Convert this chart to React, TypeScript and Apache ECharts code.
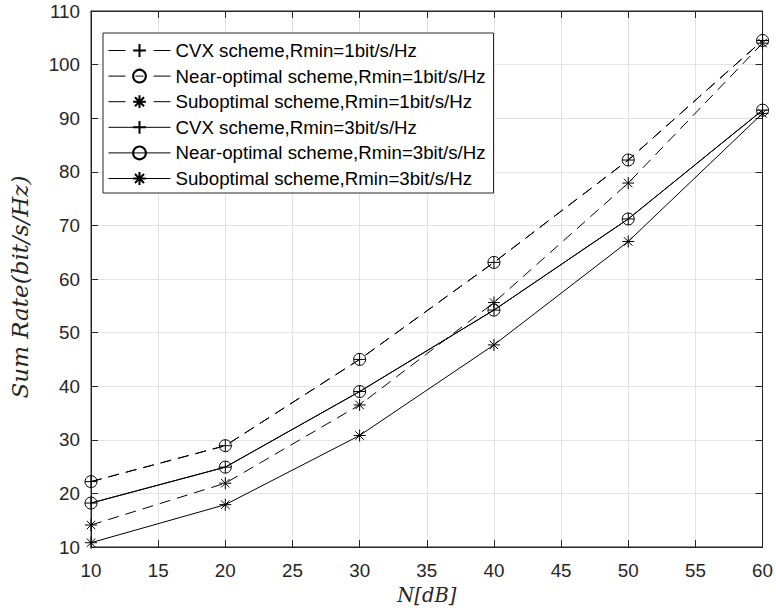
import React, { useEffect, useRef } from "react";
import * as echarts from "echarts";

const nValues = [10, 20, 30, 40, 50, 60];
const cvxR1 = [22.2, 28.9, 45.0, 63.1, 82.2, 104.5];
const nearR1 = [22.2, 28.9, 45.0, 63.1, 82.2, 104.5];
const subR1 = [14.1, 21.9, 36.5, 55.6, 77.9, 104.0];
const cvxR3 = [18.2, 24.9, 39.0, 54.2, 71.2, 91.5];
const nearR3 = [18.2, 24.9, 39.0, 54.2, 71.2, 91.5];
const subR3 = [10.8, 17.9, 30.8, 47.7, 67.0, 90.9];

const seriesNames = [
  "CVX scheme,Rmin=1bit/s/Hz",
  "Near-optimal scheme,Rmin=1bit/s/Hz",
  "Suboptimal scheme,Rmin=1bit/s/Hz",
  "CVX scheme,Rmin=3bit/s/Hz",
  "Near-optimal scheme,Rmin=3bit/s/Hz",
  "Suboptimal scheme,Rmin=3bit/s/Hz",
];
const dashedFlags = [true, true, true, false, false, false];

const PLUS = "path://M0,-10L0,10M-10,0L10,0";
const STAR =
  "path://M0,-10L0,10M-10,0L10,0M-7.07,-7.07L7.07,7.07M-7.07,7.07L7.07,-7.07";

const AXIS_COLOR = "#262626";
const SANS = "'Liberation Sans', Arial, sans-serif";
const SERIF = "'DejaVu Serif', 'Liberation Serif', serif";

function mk(name: string, ys: number[], symbol: string, dashed: boolean) {
  return {
    name,
    type: "line",
    data: nValues.map((x, i) => [x, ys[i]]),
    symbol,
    symbolSize: 12,
    showAllSymbol: true,
    lineStyle: {
      color: "#000",
      width: 1,
      type: dashed ? [11, 7] : "solid",
    },
    itemStyle: {
      color: "transparent",
      borderColor: "#000",
      borderWidth: 1,
    },
    emphasis: { disabled: true },
    silent: true,
    z: 3,
  };
}

export default function App() {
  const ref = useRef<HTMLDivElement>(null);
  useEffect(() => {
    if (!ref.current) return;
    const chart = echarts.init(ref.current, undefined, { renderer: "svg" });
    const tickCommon = {
      inside: true,
      length: 7,
      lineStyle: { color: AXIS_COLOR, width: 1 },
    };
    chart.setOption({
      animation: false,
      backgroundColor: "#fff",
      grid: {
        left: 83,
        right: 13,
        top: 11,
        bottom: 65,
        show: true,
        borderColor: AXIS_COLOR,
        borderWidth: 1,
        backgroundColor: "transparent",
      },
      legend: {
        orient: "vertical",
        left: 103,
        top: 33,
        padding: [8, 8, 5, 5],
        itemWidth: 62,
        itemHeight: 16,
        itemGap: 6.6,
        selectedMode: false,
        backgroundColor: "#fff",
        borderColor: AXIS_COLOR,
        borderWidth: 1,
        borderRadius: 0,
        align: "left",
        textStyle: {
          fontFamily: SANS,
          fontSize: 18.7,
          color: "#000",
        },
        data: seriesNames.map((name, i) => ({
          name,
          lineStyle: dashedFlags[i]
            ? { type: [17, 10, 8, 10], width: 1, color: "#000" }
            : { type: "solid", width: 1, color: "#000" },
        })),
      },
      xAxis: [
        {
          type: "value",
          min: 10,
          max: 60,
          interval: 5,
          name: "N[dB]",
          nameLocation: "middle",
          nameGap: 38,
          nameTextStyle: {
            fontFamily: SERIF,
            fontStyle: "italic",
            fontSize: 19.5,
            color: AXIS_COLOR,
          },
          axisLine: { show: true, lineStyle: { color: AXIS_COLOR, width: 1 } },
          axisTick: tickCommon,
          axisLabel: {
            fontFamily: SANS,
            fontSize: 18.8,
            color: AXIS_COLOR,
            margin: 14,
          },
          splitLine: { show: true, lineStyle: { color: "#e3e3e3", width: 1 } },
        },
        {
          type: "value",
          position: "top",
          min: 10,
          max: 60,
          interval: 5,
          axisLine: { show: true, lineStyle: { color: AXIS_COLOR, width: 1 } },
          axisTick: tickCommon,
          axisLabel: { show: false },
          splitLine: { show: false },
        },
      ],
      yAxis: [
        {
          type: "value",
          min: 10,
          max: 110,
          interval: 10,
          name: "Sum Rate(bit/s/Hz)",
          nameLocation: "middle",
          nameGap: 60,
          nameTextStyle: {
            fontFamily: SERIF,
            fontStyle: "italic",
            fontSize: 23,
            color: AXIS_COLOR,
            padding: [0, 16, 0, 0],
          },
          axisLine: { show: true, lineStyle: { color: AXIS_COLOR, width: 1 } },
          axisTick: tickCommon,
          axisLabel: {
            fontFamily: SANS,
            fontSize: 18.8,
            color: AXIS_COLOR,
            margin: 11,
          },
          splitLine: { show: true, lineStyle: { color: "#e3e3e3", width: 1 } },
        },
        {
          type: "value",
          position: "right",
          min: 10,
          max: 110,
          interval: 10,
          axisLine: { show: true, lineStyle: { color: AXIS_COLOR, width: 1 } },
          axisTick: tickCommon,
          axisLabel: { show: false },
          splitLine: { show: false },
        },
      ],
      series: [
        mk(seriesNames[0], cvxR1, PLUS, true),
        mk(seriesNames[1], nearR1, "circle", true),
        mk(seriesNames[2], subR1, STAR, true),
        mk(seriesNames[3], cvxR3, PLUS, false),
        mk(seriesNames[4], nearR3, "circle", false),
        mk(seriesNames[5], subR3, STAR, false),
      ],
    });
    return () => chart.dispose();
  }, []);
  return (
    <div
      ref={ref}
      style={{ width: 776, height: 612, position: "absolute", left: 0, top: 0 }}
    />
  );
}
